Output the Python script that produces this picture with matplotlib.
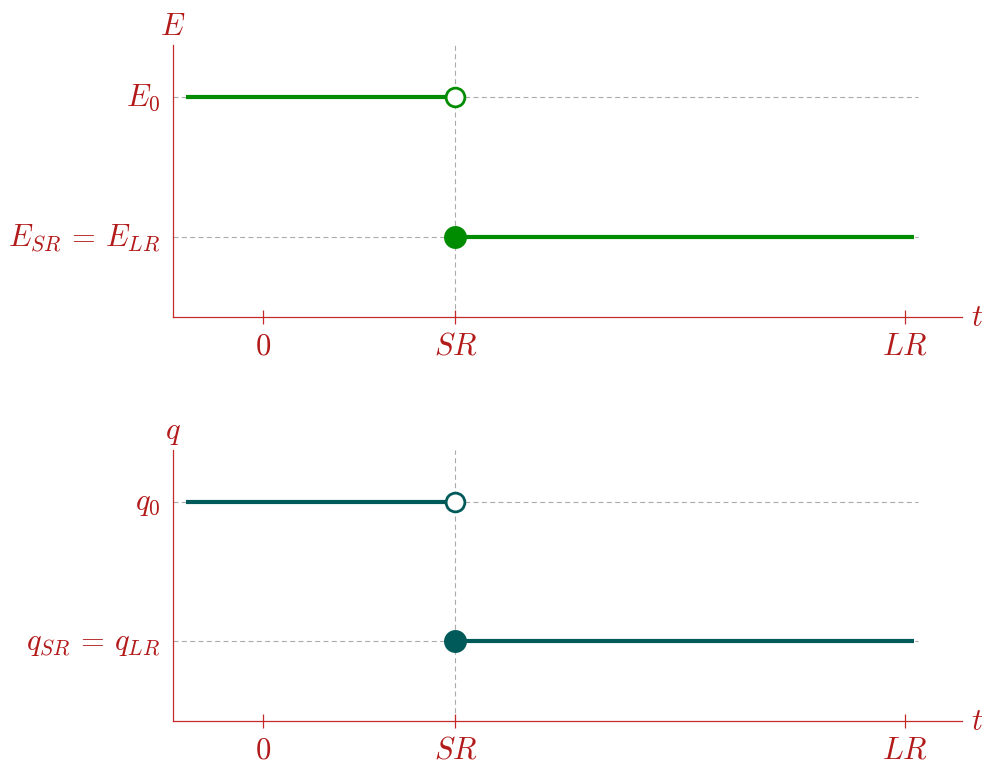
import matplotlib
matplotlib.use("Agg")
import matplotlib.pyplot as plt
from matplotlib.transforms import ScaledTranslation

plt.rcParams['mathtext.fontset'] = 'cm'
plt.rcParams['font.family'] = ['DejaVu Serif']

# ---- data ----
t_ticks = [0, 3, 10]
t_tick_labels = ['$0$', '$SR$', '$LR$']
t_start = -1.2
t_SR = 3
t_end = 10.14
grid_end = 10.2

E_levels = [5.5, 2.0]
E_labels = ['$E_0$', r'$E_{SR}\,=\,E_{LR}$']
q_levels = [5.5, 2.0]
q_labels = ['$q_0$', r'$q_{SR}\,=\,q_{LR}$']

panels = [
    ('$E$', E_levels, E_labels, '#008c00'),
    ('$q$', q_levels, q_labels, '#005a5a'),
]

RED = '#b31b1b'
AXRED = '#c42a2a'
FS = 22

W, H = 990, 764
fig = plt.figure(figsize=(W / 100, H / 100), dpi=100)

axes_px = [(173, 317, 962, 45), (173, 721, 962, 450)]

for (ylab, levels, labels, col), (x0, yb, x1, yt) in zip(panels, axes_px):
    ax = fig.add_axes([x0 / W, (H - yb) / H, (x1 - x0) / W, (yb - yt) / H])
    ax.set_xlim(-1.40, 10.89)
    ax.set_ylim(0, 6.8)
    for s in ['top', 'right']:
        ax.spines[s].set_visible(False)
    for s in ['left', 'bottom']:
        ax.spines[s].set_color(AXRED)
        ax.spines[s].set_linewidth(0.9)

    # grid lines
    for lv in levels:
        ax.plot([-1.40, grid_end], [lv, lv], color='#aaaaaa', lw=0.8,
                dashes=(4.5, 3), zorder=1)
    ax.plot([t_SR, t_SR], [0, 6.8], color='#aaaaaa', lw=0.8,
            dashes=(4.5, 3), zorder=1)

    # step lines
    ax.plot([t_start, t_SR], [levels[0], levels[0]], color=col, lw=3,
            solid_capstyle='butt', zorder=3)
    ax.plot([t_SR, t_end], [levels[1], levels[1]], color=col, lw=3,
            solid_capstyle='butt', zorder=3)
    ax.plot([t_SR], [levels[0]], 'o', ms=13.5, mfc='white', mec=col,
            mew=2, zorder=4)
    ax.plot([t_SR], [levels[1]], 'o', ms=16.5, mfc=col, mec=col,
            mew=0, zorder=4)

    ax.set_xticks(t_ticks)
    ax.set_xticklabels(t_tick_labels)
    ax.tick_params(axis='x', direction='inout', length=9.5, width=0.9,
                   color=AXRED, labelcolor=RED, labelsize=FS, pad=5)
    ax.set_yticks(levels)
    ax.set_yticklabels(labels)
    ax.tick_params(axis='y', length=0, labelcolor=RED, labelsize=FS, pad=9)
    shift = ScaledTranslation(0, 3 / 100, fig.dpi_scale_trans)
    for lbl in ax.get_yticklabels():
        lbl.set_transform(lbl.get_transform() + shift)

    ax.text(0, 1.01, ylab, transform=ax.transAxes, ha='center', va='bottom',
            color=RED, fontsize=FS)
    ax.text(1.012, 0, '$t$', transform=ax.transAxes, ha='left', va='center',
            color=RED, fontsize=FS)

fig.savefig('out.png', dpi=100)
